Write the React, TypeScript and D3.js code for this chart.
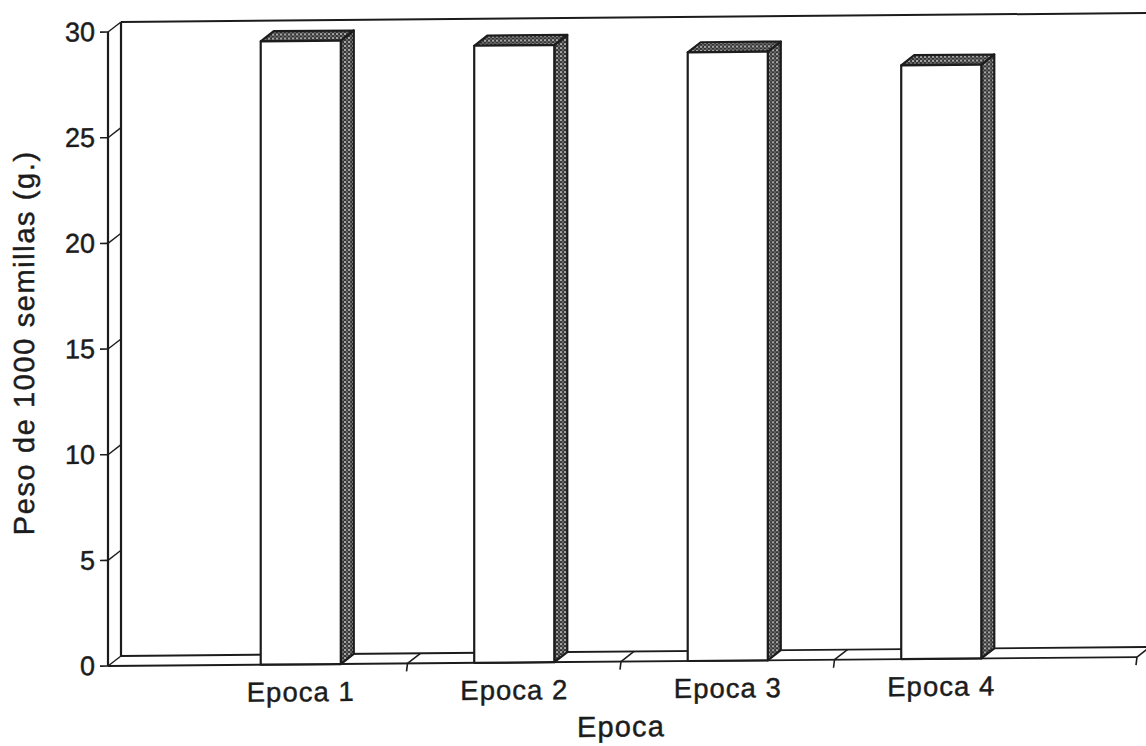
import React from "react";
import * as d3 from "d3";

// Thousand-seed weight by sowing period
const categories = ["Epoca 1", "Epoca 2", "Epoca 3", "Epoca 4"];
const pesoValues = [29.5, 29.2, 28.8, 28.1];
const yTicks = [0, 5, 10, 15, 20, 25, 30];
const xTitle = "Epoca";
const yTitle = "Peso de 1000 semillas (g.)";

const W = 1146;
const H = 746;
const FONT = "'Liberation Sans', Arial, Helvetica, sans-serif";
const INK = "#1c1c1c";

// plot frame (front plane) and 3D depth offset
const frontLeft = 108;
const frontRight = 1137;
const DX = 13;
const DY = -10;
const TILT = -0.5; // slight slant of the whole sheet, degrees

const textStyle = {
  fontFamily: FONT,
  fill: INK,
  stroke: INK,
  strokeWidth: 0.45,
};

export default function App() {
  const y = d3.scaleLinear().domain([0, 30]).range([667, 33]);
  const x = d3
    .scalePoint<string>()
    .domain(categories)
    .range([194, 1048])
    .padding(0.5);
  const step = x.step();
  const barW = step * 0.375;
  const y0 = y(0);
  const yMax = y(30);

  const floorTicks = [
    ...categories.slice(0, -1).map((c) => (x(c) as number) + step / 2),
    frontRight,
  ];

  const pts = (p: [number, number][]) => p.map((q) => q.join(",")).join(" ");

  return (
    <svg
      width={W}
      height={H}
      viewBox={`0 0 ${W} ${H}`}
      style={{ position: "absolute", left: 0, top: 0, background: "#fff" }}
    >
      <defs>
        <pattern id="stipple" width="4" height="4" patternUnits="userSpaceOnUse">
          <rect width="4" height="4" fill="#333" />
          <circle cx="1" cy="1" r="0.9" fill="#e8e8e8" />
          <circle cx="3" cy="3" r="0.7" fill="#bdbdbd" />
        </pattern>
      </defs>
      <g transform={`skewY(${TILT})`}>
        {/* back wall top edge */}
        <line
          x1={frontLeft + DX}
          y1={yMax + DY}
          x2={W + 30}
          y2={yMax + DY}
          stroke={INK}
          strokeWidth={2}
        />
        {/* value axis: front and back edges of the left wall */}
        <line x1={frontLeft} y1={y0} x2={frontLeft} y2={yMax} stroke={INK} strokeWidth={2.2} />
        <line
          x1={frontLeft + DX}
          y1={y0 + DY}
          x2={frontLeft + DX}
          y2={yMax + DY}
          stroke={INK}
          strokeWidth={2.2}
        />
        {yTicks.map((t) => (
          <g key={t}>
            <line x1={frontLeft - 8} y1={y(t)} x2={frontLeft} y2={y(t)} stroke={INK} strokeWidth={1.6} />
            <line
              x1={frontLeft}
              y1={y(t)}
              x2={frontLeft + DX}
              y2={y(t) + DY}
              stroke={INK}
              strokeWidth={1.4}
            />
            <text
              x={95}
              y={y(t)}
              textAnchor="end"
              dominantBaseline="central"
              fontSize={27}
              {...textStyle}
            >
              {t}
            </text>
          </g>
        ))}

        {/* floor */}
        <line x1={frontLeft} y1={y0} x2={frontRight} y2={y0} stroke={INK} strokeWidth={1.9} />
        <line
          x1={frontLeft + DX}
          y1={y0 + DY}
          x2={frontRight + DX}
          y2={y0 + DY}
          stroke={INK}
          strokeWidth={1.9}
        />
        {floorTicks.map((bx, i) => (
          <g key={i}>
            <line x1={bx + DX} y1={y0 + DY} x2={bx} y2={y0} stroke={INK} strokeWidth={1.6} />
            <line x1={bx} y1={y0} x2={bx - 1} y2={y0 + 8} stroke={INK} strokeWidth={1.6} />
          </g>
        ))}

        {/* bars */}
        {categories.map((c, i) => {
          const x0 = (x(c) as number) - barW / 2;
          const x1 = x0 + barW;
          const yt = y(pesoValues[i]);
          return (
            <g key={c} stroke={INK} strokeWidth={2.2} strokeLinejoin="round">
              <polygon
                points={pts([
                  [x1, yt],
                  [x1 + DX, yt + DY],
                  [x1 + DX, y0 + DY],
                  [x1, y0],
                ])}
                fill="url(#stipple)"
              />
              <polygon
                points={pts([
                  [x0, yt],
                  [x0 + DX, yt + DY],
                  [x1 + DX, yt + DY],
                  [x1, yt],
                ])}
                fill="url(#stipple)"
              />
              <rect x={x0} y={yt} width={barW} height={y0 - yt} fill="#fff" />
            </g>
          );
        })}

        {/* category labels */}
        {categories.map((c) => (
          <text
            key={c}
            x={x(c) as number}
            y={704}
            textAnchor="middle"
            fontSize={27.5}
            letterSpacing={1}
            {...textStyle}
          >
            {c}
          </text>
        ))}

        {/* axis titles */}
        <text
          x={621}
          y={742}
          textAnchor="middle"
          fontSize={29}
          letterSpacing={1.2}
          {...textStyle}
        >
          {xTitle}
        </text>
        <text
          transform="translate(24,343) rotate(-90)"
          textAnchor="middle"
          dominantBaseline="central"
          fontSize={29}
          letterSpacing={1.6}
          {...textStyle}
        >
          {yTitle}
        </text>
      </g>
    </svg>
  );
}
